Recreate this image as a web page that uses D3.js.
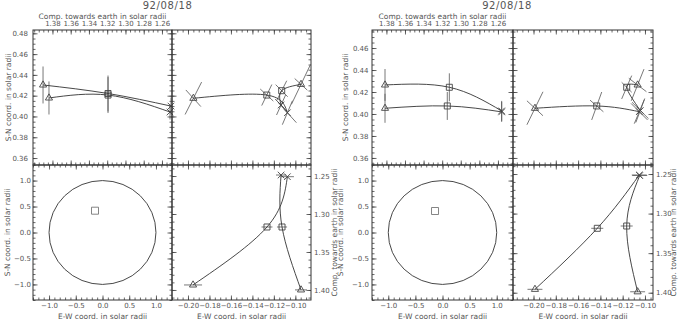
<!DOCTYPE html>
<html>
<head>
<meta charset="utf-8">
<script src="https://cdn.jsdelivr.net/npm/d3@7"></script>
<style>
  body { margin: 0; background: #fff; }
  svg { display: block; }
  text { font-family: "DejaVu Sans", sans-serif; fill: #555; }
  .tick text { font-size: 7px; }
  .tick line { stroke: #444; stroke-width: 0.8px; }
  .title { font-size: 7.5px; }
  .head { font-size: 10px; letter-spacing: 0.6px; }
</style>
</head>
<body>
<svg id="chart" width="681" height="321"></svg>
<script>
// ---- values ----
var titles = ['92/08/18', '92/08/18'],
    compTitle = 'Comp. towards earth in solar radii',
    snTitle = 'S-N coord. in solar radii',
    ewTitle = 'E-W coord. in solar radii';

// marker: 0 triangle, 1 square, 2 x
// curve, marker, comp, S-N, S-N error
var compSnA = [
    [0, 0, 1.3838, 0.4178, 0.0159],
    [0, 1, 1.3191, 0.4206, 0.0173],
    [0, 2, 1.2512, 0.4043, 0.0072],
    [1, 0, 1.3903, 0.4303, 0.0178],
    [1, 1, 1.3191, 0.4221, 0.0173],
    [1, 2, 1.2501, 0.4100, 0.0082]
];
// curve, marker, E-W, S-N, error arm 1 (dEW, dSN), error arm 2 (dEW, dSN)
var ewSnA = [
    [0, 0, -0.1950, 0.4175, 0.0077, 0.0156, 0.0070, -0.0080],
    [0, 1, -0.1266, 0.4206, 0.0047, 0.0101, 0.0061, -0.0058],
    [0, 2, -0.1074, 0.4036, 0.0047, 0.0115, 0.0084, -0.0096],
    [1, 0, -0.0947, 0.4309, 0.0089, 0.0192, 0.0059, -0.0056],
    [1, 1, -0.1127, 0.4248, 0.0047, 0.0096, 0.0056, -0.0058],
    [1, 2, -0.1133, 0.4110, 0.0042, 0.0096, 0.0056, -0.0058]
];
// curve, marker, E-W, comp, E-W error
var ewCompA = [
    [0, 0, -0.1953, 1.3934, 0.0084],
    [0, 1, -0.1264, 1.3171, 0.0051],
    [0, 2, -0.1074, 1.2509, 0.0061],
    [1, 0, -0.0947, 1.3999, 0.0056],
    [1, 1, -0.1124, 1.3171, 0.0047],
    [1, 2, -0.1133, 1.2487, 0.0047]
];
var diskMarkA = [-0.14, 0.42];

var compSnB = [
    [0, 0, 1.3815, 0.4052, 0.0132],
    [0, 1, 1.3145, 0.4073, 0.0127],
    [0, 2, 1.2560, 0.4019, 0.0091],
    [1, 0, 1.3815, 0.4264, 0.0145],
    [1, 1, 1.3123, 0.4243, 0.0127],
    [1, 2, 1.2560, 0.4028, 0.0091]
];
var ewSnB = [
    [0, 0, -0.1987, 0.4052, 0.0072, 0.0150, 0.0072, -0.0068],
    [0, 1, -0.1433, 0.4073, 0.0045, 0.0127, 0.0060, -0.0053],
    [0, 2, -0.1051, 0.4021, 0.0045, 0.0109, 0.0074, -0.0075],
    [1, 0, -0.1066, 0.4264, 0.0057, 0.0144, 0.0079, -0.0061],
    [1, 1, -0.1164, 0.4243, 0.0045, 0.0106, 0.0045, -0.0045],
    [1, 2, -0.1042, 0.4032, 0.0040, 0.0109, 0.0074, -0.0075]
];
var ewCompB = [
    [0, 0, -0.1987, 1.3957, 0.0067],
    [0, 1, -0.1428, 1.3186, 0.0054],
    [0, 2, -0.1051, 1.2512, 0.0067],
    [1, 0, -0.1066, 1.3988, 0.0067],
    [1, 1, -0.1164, 1.3157, 0.0054],
    [1, 2, -0.1047, 1.2519, 0.0067]
];
var diskMarkB = [-0.138, 0.414];

// axis ranges and tick labels
var snDomA = [0.3533, 0.4832], snDomB = [0.3536, 0.4764],
    compTopDomA = [1.4013, 1.249], compTopDomB = [1.3955, 1.2438],
    ewDomA = [-0.2149, -0.0854], ewDomB = [-0.2184, -0.0928],
    compSideDomA = [1.2355, 1.4132], compSideDomB = [1.2386, 1.4092],
    diskDom = [-1.3, 1.3];

var snTicks = [0.36, 0.38, 0.40, 0.42, 0.44, 0.46, 0.48],
    compTopTicks = [1.38, 1.36, 1.34, 1.32, 1.30, 1.28, 1.26],
    ewTicks = [-0.20, -0.18, -0.16, -0.14, -0.12, -0.10],
    compSideTicks = [1.25, 1.30, 1.35, 1.40],
    diskTicks = [-1.0, -0.5, 0.0, 0.5, 1.0];

// ---- layout ----
var svg = d3.select('#chart'),
    rowY = [30, 165, 300],
    majorLen = 4.5,
    minorLen = 2.5,
    lineColor = '#333',
    errColor = '#555',
    markColor = '#444',
    symTypes = [d3.symbolTriangle, d3.symbolSquare, d3.symbolTimes || d3.symbolX],
    symSizes = [22, 36, 30],
    f2 = d3.format('.2f'),
    f1 = d3.format('.1f');

var panels = [
    { col: [33, 172, 311], title: titles[0], titleX: 167.5, compSn: compSnA, ewSn: ewSnA, ewComp: ewCompA,
      disk: diskMarkA, snDom: snDomA, compTopDom: compTopDomA, ewDom: ewDomA, compSideDom: compSideDomA,
      padTL: 5, padBL: 2, snX1: 8, snX2: 7.5, compX: 334, ewX: 241.5 },
    { col: [372, 513, 653], title: titles[1], titleX: 507, compSn: compSnB, ewSn: ewSnB, ewComp: ewCompB,
      disk: diskMarkB, snDom: snDomB, compTopDom: compTopDomB, ewDom: ewDomB, compSideDom: compSideDomB,
      padTL: 3.5, padBL: 3, snX1: 345, snX2: 340.5, compX: 673, ewX: 583 }
];

panels.forEach(drawPanel);

function minorTicks(dom, step) {
    var lo = Math.min(dom[0], dom[1]), hi = Math.max(dom[0], dom[1]);
    return d3.range(Math.ceil(lo / step - 1e-6), Math.floor(hi / step + 1e-6) + 1)
        .map(function(i) { return +(i * step).toFixed(6); });
}

function inDomain(ticks, dom) {
    var lo = Math.min(dom[0], dom[1]), hi = Math.max(dom[0], dom[1]);
    return ticks.filter(function(t) { return t >= lo && t <= hi; });
}

// one side of a box: minor ticks, major ticks, optional labels
function side(g, make, scale, tx, ty, major, minor, fmt, pad) {
    var a = g.append('g').attr('transform', 'translate(' + tx + ',' + ty + ')');
    a.append('g').call(make(scale).tickValues(minor).tickSizeInner(-minorLen).tickSizeOuter(0).tickFormat(''));
    a.append('g').call(make(scale).tickValues(major).tickSizeInner(-majorLen).tickSizeOuter(0)
        .tickPadding(pad || 0).tickFormat(fmt || ''));
    a.selectAll('.domain').remove();
}

function frame(g, xs, ys, o) {
    var xr = xs.range(), yr = ys.range(),
        x0 = Math.min(xr[0], xr[1]), x1 = Math.max(xr[0], xr[1]),
        y0 = Math.min(yr[0], yr[1]), y1 = Math.max(yr[0], yr[1]);
    var xMajor = inDomain(o.xMajor, xs.domain()), yMajor = inDomain(o.yMajor, ys.domain()),
        xMinor = minorTicks(xs.domain(), o.xStep), yMinor = minorTicks(ys.domain(), o.yStep);

    side(g, d3.axisBottom, xs, 0, y1, xMajor, xMinor, o.bottom, 3);
    side(g, d3.axisTop, xs, 0, y0, xMajor, xMinor, o.top, 4);
    side(g, d3.axisLeft, ys, x0, 0, yMajor, yMinor, o.left, o.padLeft);
    side(g, d3.axisRight, ys, x1, 0, yMajor, yMinor, o.right, 3);

    g.append('rect')
        .attr('x', x0).attr('y', y0)
        .attr('width', x1 - x0).attr('height', y1 - y0)
        .attr('fill', 'none')
        .attr('stroke', lineColor)
        .attr('stroke-width', 1);
}

function curves(g, rows, xs, ys) {
    var line = d3.line()
        .x(function(d) { return xs(d[2]); })
        .y(function(d) { return ys(d[3]); })
        .curve(d3.curveNatural);

    d3.groups(rows, function(d) { return d[0]; }).forEach(function(c) {
        g.append('path')
            .attr('d', line(c[1]))
            .attr('fill', 'none')
            .attr('stroke', lineColor)
            .attr('stroke-width', 0.9);
    });
}

function marks(g, rows, xs, ys) {
    g.selectAll(null)
        .data(rows)
        .enter().append('path')
        .attr('transform', function(d) { return 'translate(' + xs(d[2]) + ',' + ys(d[3]) + ')'; })
        .attr('d', function(d) { return d3.symbol(symTypes[d[1]], symSizes[d[1]])(); })
        .attr('fill', 'none')
        .attr('stroke', markColor)
        .attr('stroke-width', 0.9);
}

function seg(g, xa, ya, xb, yb) {
    g.append('line')
        .attr('x1', xa).attr('y1', ya)
        .attr('x2', xb).attr('y2', yb)
        .attr('stroke', errColor)
        .attr('stroke-width', 0.8);
}

function vtext(g, x, y, s) {
    g.append('text')
        .attr('class', 'title')
        .attr('transform', 'translate(' + x + ',' + y + ') rotate(-90)')
        .attr('text-anchor', 'middle')
        .attr('dy', '0.35em')
        .text(s);
}

function drawPanel(p) {
    var g = svg.append('g'),
        c = p.col;

    var xComp = d3.scaleLinear().domain(p.compTopDom).range([c[0], c[1]]),
        ySn = d3.scaleLinear().domain(p.snDom).range([rowY[1], rowY[0]]),
        xEw = d3.scaleLinear().domain(p.ewDom).range([c[1], c[2]]),
        yComp = d3.scaleLinear().domain(p.compSideDom).range([rowY[1], rowY[2]]),
        xDisk = d3.scaleLinear().domain(diskDom).range([c[0], c[1]]),
        yDisk = d3.scaleLinear().domain(diskDom).range([rowY[2], rowY[1]]);

    // headline
    g.append('text')
        .attr('class', 'head')
        .attr('x', p.titleX).attr('y', 8.5)
        .attr('text-anchor', 'middle')
        .text(p.title);

    // upper left: comp vs S-N
    var tl = g.append('g');
    frame(tl, xComp, ySn, { xMajor: compTopTicks, yMajor: snTicks, xStep: 0.005, yStep: 0.005,
        top: f2, left: f2, padLeft: p.padTL });
    p.compSn.forEach(function(d) {
        seg(tl, xComp(d[2]), ySn(d[3] - d[4]), xComp(d[2]), ySn(d[3] + d[4]));
    });
    curves(tl, p.compSn, xComp, ySn);
    marks(tl, p.compSn, xComp, ySn);

    // upper right: E-W vs S-N
    var tr = g.append('g');
    frame(tr, xEw, ySn, { xMajor: ewTicks, yMajor: snTicks, xStep: 0.005, yStep: 0.005 });
    p.ewSn.forEach(function(d) {
        seg(tr, xEw(d[2] - d[4]), ySn(d[3] - d[5]), xEw(d[2] + d[4]), ySn(d[3] + d[5]));
        seg(tr, xEw(d[2] - d[6]), ySn(d[3] - d[7]), xEw(d[2] + d[6]), ySn(d[3] + d[7]));
    });
    curves(tr, p.ewSn, xEw, ySn);
    marks(tr, p.ewSn, xEw, ySn);

    // lower left: solar disk
    var bl = g.append('g');
    frame(bl, xDisk, yDisk, { xMajor: diskTicks, yMajor: diskTicks, xStep: 0.1, yStep: 0.1,
        bottom: f1, left: f1, padLeft: p.padBL });
    bl.append('ellipse')
        .attr('cx', xDisk(0)).attr('cy', yDisk(0))
        .attr('rx', xDisk(1) - xDisk(0)).attr('ry', yDisk(0) - yDisk(1))
        .attr('fill', 'none')
        .attr('stroke', lineColor)
        .attr('stroke-width', 0.9);
    bl.append('path')
        .attr('transform', 'translate(' + xDisk(p.disk[0]) + ',' + yDisk(p.disk[1]) + ')')
        .attr('d', d3.symbol(d3.symbolSquare, 49)())
        .attr('fill', 'none')
        .attr('stroke', '#777')
        .attr('stroke-width', 0.9);

    // lower right: E-W vs comp
    var br = g.append('g');
    frame(br, xEw, yComp, { xMajor: ewTicks, yMajor: compSideTicks, xStep: 0.005, yStep: 0.01,
        bottom: f2, right: f2 });
    p.ewComp.forEach(function(d) {
        seg(br, xEw(d[2] - d[4]), yComp(d[3]), xEw(d[2] + d[4]), yComp(d[3]));
    });
    curves(br, p.ewComp, xEw, yComp);
    marks(br, p.ewComp, xEw, yComp);

    // axis titles
    g.append('text')
        .attr('class', 'title')
        .attr('x', (c[0] + c[1]) / 2).attr('y', 19)
        .attr('text-anchor', 'middle')
        .text(compTitle);
    g.append('text')
        .attr('class', 'title')
        .attr('x', (c[0] + c[1]) / 2).attr('y', 318.5)
        .attr('text-anchor', 'middle')
        .text(ewTitle);
    g.append('text')
        .attr('class', 'title')
        .attr('x', p.ewX).attr('y', 318.5)
        .attr('text-anchor', 'middle')
        .text(ewTitle);
    vtext(g, p.snX1, (rowY[0] + rowY[1]) / 2, snTitle);
    vtext(g, p.snX2, (rowY[1] + rowY[2]) / 2, snTitle);
    vtext(g, p.compX, (rowY[1] + rowY[2]) / 2, compTitle);
}
</script>
</body>
</html>
